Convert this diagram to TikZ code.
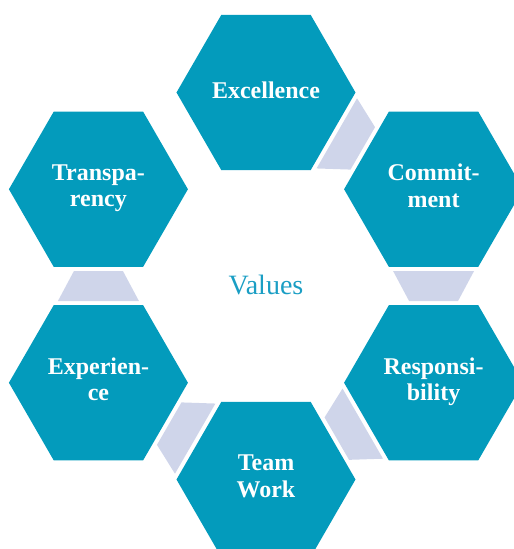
\documentclass[tikz,border=0pt]{standalone}
\usepackage{fontspec}
\setmainfont{Liberation Serif}
\usetikzlibrary{shapes.geometric,calc}
\definecolor{hexteal}{HTML}{039BBC}
\definecolor{conncol}{HTML}{CFD5EA}
\definecolor{valcol}{HTML}{1A9EC4}
\begin{document}
\begin{tikzpicture}[x=1pt,y=1pt,
  hexa/.style={regular polygon, regular polygon sides=6, minimum size=179pt,
    inner sep=0pt, outer sep=0pt, fill=hexteal, text=white,
    font=\fontsize{24}{26.5}\selectfont\bfseries, align=center,
    execute at begin node={\rule{0pt}{20pt}}, execute at end node={\rule[-7pt]{0pt}{7pt}}},
  connector/.style={fill=conncol},
  centre/.style={text=valcol, font=\fontsize{28}{30}\selectfont, anchor=base, inner sep=0pt}]
\useasboundingbox (-266,-263) rectangle (248,286);
\clip (-266,-263) rectangle (248,286);
\node[hexa] (ex) at (90:193.5pt) {Excellence};
\node[hexa] (co) at (30:193.5pt) {Commit-\\ment};
\node[hexa] (re) at (-30:193.5pt) {Responsi-\\bility};
\node[hexa] (tw) at (-90:193.5pt) {Team\\Work};
\node[hexa] (xp) at (210:193.5pt) {Experien-\\ce};
\node[hexa] (tr) at (150:193.5pt) {Transpa-\\rency};
\node[centre] (val) at (0,-8.3) {Values};
\coordinate (m1) at ($(ex)!0.5!(co)$);
\coordinate (m2) at ($(co)!0.5!(re)$);
\coordinate (m3) at ($(re)!0.5!(tw)$);
\coordinate (m4) at ($(tw)!0.5!(xp)$);
\coordinate (m5) at ($(xp)!0.5!(tr)$);
\fill[connector, shift={(m1)}, rotate=-30] (-15,40.5) -- (15,24.5) -- (15,-24.5) -- (-15,-40.5) -- cycle;
\fill[connector, shift={(m2)}, rotate=-90] (-15,40.5) -- (15,24.5) -- (15,-24.5) -- (-15,-40.5) -- cycle;
\fill[connector, shift={(m3)}, rotate=-150] (-15,40.5) -- (15,24.5) -- (15,-24.5) -- (-15,-40.5) -- cycle;
\fill[connector, shift={(m4)}, rotate=150] (-15,40.5) -- (15,24.5) -- (15,-24.5) -- (-15,-40.5) -- cycle;
\fill[connector, shift={(m5)}, rotate=90] (-15,40.5) -- (15,24.5) -- (15,-24.5) -- (-15,-40.5) -- cycle;
\end{tikzpicture}
\end{document}
